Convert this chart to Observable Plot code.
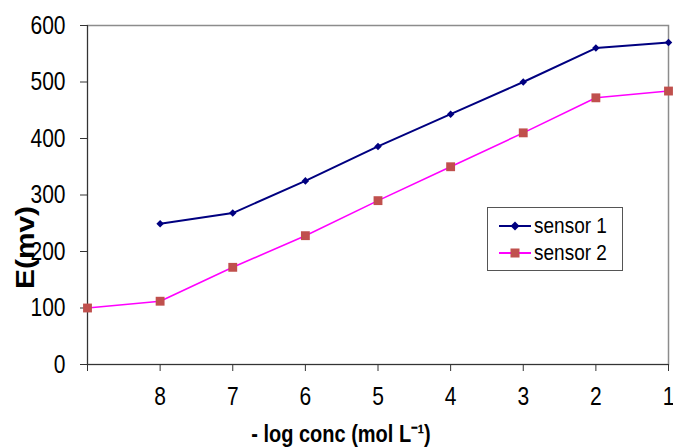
<!DOCTYPE html>
<html><head><meta charset="utf-8">
<script src="https://cdn.jsdelivr.net/npm/d3@7"></script>
<script src="https://cdn.jsdelivr.net/npm/@observablehq/plot@0.6"></script>
<style>
body{margin:0;background:#fff;font-family:"Liberation Sans",Arial,sans-serif}
#wrap{position:relative;width:673px;height:448px;overflow:hidden}
#legend{position:absolute;left:487px;top:207px;width:136px;height:64px;border:1px solid #555;background:#fff;box-sizing:border-box;padding-top:4px}
.row{display:flex;align-items:center;height:27px;font-size:19px;color:#000;padding-left:11px}
.row span{display:inline-block;transform:scaleY(1.2)}
.row svg{margin-right:3px}
</style></head><body>
<div id="wrap"><div id="chart"></div><div id="legend"></div></div>
<script>
const logConc = [9, 8, 7, 6, 5, 4, 3, 2, 1];
const sensor1 = [null, 249, 268, 325, 386, 443, 500, 560, 570];
const sensor2 = [100, 112, 172, 228, 290, 350, 410, 472, 484];
const xTicks = [9, 8, 7, 6, 5, 4, 3, 2, 1];
const yTicks = [0, 100, 200, 300, 400, 500, 600];
const seriesNames = ["sensor 1", "sensor 2"];
const seriesColors = {line1: "#000080", line2: "#ff00ff", mark1: "#000080", mark2: "#c0504d"};
const yLabel = "E(mv)";
const xLabel = "- log conc (mol L\u207B\u00B9)";

const s1 = logConc.map((x, i) => ({x, y: sensor1[i]})).filter(d => d.y != null);
const s2 = logConc.map((x, i) => ({x, y: sensor2[i]}));

const chart = Plot.plot({
  width: 673, height: 448,
  marginLeft: 87, marginRight: 5, marginTop: 25, marginBottom: 84,
  style: {fontFamily: "Liberation Sans, Arial, sans-serif", color: "#000", background: "#fff", overflow: "visible"},
  x: {domain: [9, 1]},
  y: {domain: [0, 600]},
  marks: [
    Plot.frame({stroke: "#8c8c8c", strokeWidth: 1.5}),
    Plot.axisY({ticks: yTicks, tickSize: 7, tickPadding: 15, label: null, fontSize: 21, stroke: "#333", fill: "#000"}),
    Plot.axisX({ticks: xTicks, tickSize: 7, tickPadding: 15, label: null, fontSize: 21, stroke: "#333", fill: "#000",
      tickFormat: d => d === 9 ? "" : String(d)}),
    Plot.ruleX([9], {stroke: "#333"}),
    Plot.ruleY([0], {stroke: "#333"}),
    Plot.line(s1, {x: "x", y: "y", stroke: seriesColors.line1, strokeWidth: 2}),
    Plot.line(s2, {x: "x", y: "y", stroke: seriesColors.line2, strokeWidth: 1.6}),
    Plot.dot(s1, {x: "x", y: "y", symbol: "diamond2", r: 3.4, fill: seriesColors.mark1}),
    Plot.dot(s2, {x: "x", y: "y", symbol: "square", r: 5, fill: seriesColors.mark2}),
    Plot.text([yLabel], {text: d => d, frameAnchor: "left", dx: -62, dy: 94, rotate: -90, fontSize: 26, fontWeight: "bold"}),
    Plot.text([xLabel], {text: d => d, frameAnchor: "bottom", dx: -37, dy: 77, fontSize: 20, fontWeight: "bold"})
  ]
});
document.getElementById("chart").appendChild(chart);

// the reference's lettering is taller than it is wide: stretch glyphs vertically
const svg = d3.select(chart);
svg.selectAll('g[aria-label="y-axis tick label"] text, g[aria-label="x-axis tick label"] text')
  .attr("transform", function() { return (this.getAttribute("transform") || "") + " scale(1,1.25)"; });
svg.selectAll('g[aria-label="text"] text')
  .attr("transform", function() {
    const t = this.getAttribute("transform") || "";
    return t + (t.includes("rotate") ? " scale(1.15,1)" : " scale(1,1.2)");
  });

const legend = document.getElementById("legend");
seriesNames.forEach((name, i) => {
  const row = document.createElement("div");
  row.className = "row";
  const line = i === 0 ? seriesColors.line1 : seriesColors.line2;
  const mark = i === 0 ? seriesColors.mark1 : seriesColors.mark2;
  const sym = i === 0
    ? `<path d="M16 2.5 L20.5 7 L16 11.5 L11.5 7 Z" fill="${mark}"/>`
    : `<rect x="11.5" y="2.5" width="9" height="9" fill="${mark}"/>`;
  row.innerHTML = `<svg width="32" height="14"><line x1="0" y1="7" x2="32" y2="7" stroke="${line}" stroke-width="2"/>${sym}</svg><span>${name}</span>`;
  legend.appendChild(row);
});
</script>
</body></html>
